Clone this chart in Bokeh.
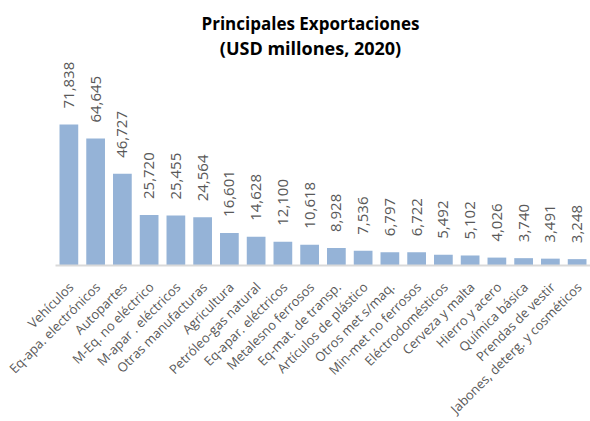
import math
from bokeh.plotting import figure
from bokeh.models import ColumnDataSource, Label, Range1d
from bokeh.core.properties import value
from bokeh.embed import file_html
from bokeh.resources import INLINE

categories = [
    "Vehículos", "Eq-apa. electrónicos", "Autopartes", "M-Eq. no eléctrico",
    "M-apar . eléctricos", "Otras manufacturas", "Agricultura",
    "Petróleo-gas natural", "Eq-apar. eléctricos", "Metalesno ferrosos",
    "Eq-mat. de transp.", "Artículos de plástico", "Otros met s/maq.",
    "Min-met no ferrosos", "Eléctrodomésticos", "Cerveza y malta",
    "Hierro y acero", "Química básica", "Prendas de vestir",
    "Jabones, deterg. y cosméticos",
]
values = [71838, 64645, 46727, 25720, 25455, 24564, 16601, 14628, 12100,
          10618, 8928, 7536, 6797, 6722, 5492, 5102, 4026, 3740, 3491, 3248]
value_labels = [f"{v:,}" for v in values]
title_lines = ["Principales Exportaciones", "(USD millones, 2020)"]

W, H = 590, 421
base_px = 265               # baseline position from top of figure
bars_left = 55              # left edge of first category slot
n = len(categories)
pitch = (W - bars_left) / n
scale = 71838 / 141         # data units per pixel (tallest bar ~141px)
y_end = base_px * scale
y_start = -(H - base_px) * scale

xpos = [i + 0.5 for i in range(n)]
src = ColumnDataSource(dict(x=xpos, cat=categories, val=values,
                            lab=value_labels, zero=[0] * n))

p = figure(x_range=Range1d(-bars_left / pitch, n),
           y_range=Range1d(y_start, y_end), width=W, height=H,
           output_backend="svg", toolbar_location=None,
           min_border_left=0, min_border_right=0, min_border_top=0,
           min_border_bottom=0)
p.outline_line_color = None
p.xgrid.grid_line_color = None
p.ygrid.grid_line_color = None
p.xaxis.visible = False
p.yaxis.visible = False
p.background_fill_color = "white"
p.border_fill_color = "white"

p.vbar(x="x", top="val", bottom=0, width=0.7, source=src,
       fill_color="#95B3D7", line_color=None)

# baseline (category axis line), starting at the first category slot
p.segment(x0=[0], y0=[0], x1=[n], y1=[0], line_color="#D9D9D9", line_width=2)

# value labels
p.text(x="x", y="val", text="lab", source=src, angle=math.pi / 2,
       text_align="left", text_baseline="middle", y_offset=-16,
       text_font=value("Open Sans"), text_font_size="15px",
       text_color="#595959")

# category labels (rotated 45°)
p.text(x="x", y="zero", text="cat", source=src, angle=math.pi / 4,
       text_align="right", text_baseline="middle", x_offset=2, y_offset=19,
       text_font=value("Open Sans"), text_font_size="13px",
       text_color="#595959")

tx = (310 - bars_left) / pitch
for line, py, fs in zip(title_lines, [23, 47], ["17px", "18px"]):
    p.add_layout(Label(x=tx, y=(base_px - py) * scale, text=line,
                       text_align="center", text_baseline="middle",
                       text_font="Open Sans", text_font_style="bold",
                       text_font_size=fs, text_color="#000000"))

open("out.html", "w").write(file_html(p, INLINE))
